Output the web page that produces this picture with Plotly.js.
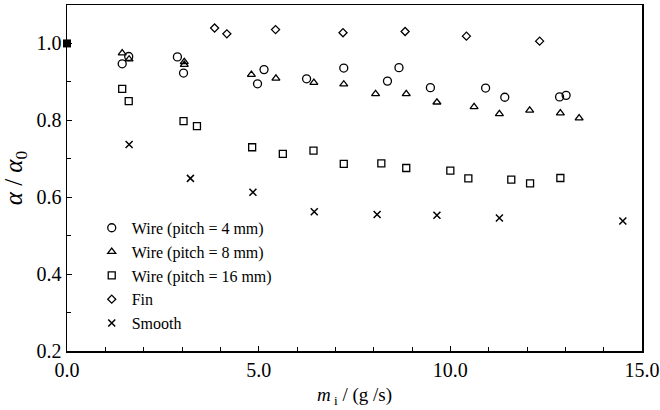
<!DOCTYPE html>
<html>
<head>
<meta charset="utf-8">
<script src="https://cdn.plot.ly/plotly-3.0.1.min.js"></script>
<style>html,body{margin:0;padding:0;background:#fff;}#chart{width:660px;height:410px;}</style>
</head>
<body>
<div id="chart"></div>
<script>
// Wire (pitch = 4 mm)
const wire4X = [1.44, 1.61, 2.88, 3.04, 4.97, 5.14, 6.25, 7.22, 8.36, 8.66, 9.48, 10.92, 11.42, 12.85, 13.02];
const wire4Y = [0.947, 0.966, 0.965, 0.923, 0.895, 0.932, 0.908, 0.936, 0.902, 0.937, 0.885, 0.884, 0.860, 0.861, 0.865];
// Wire (pitch = 8 mm)
const wire8X = [1.44, 1.62, 3.06, 3.06, 4.81, 5.45, 6.44, 7.22, 8.05, 8.85, 9.65, 10.62, 11.28, 12.07, 12.87, 13.36];
const wire8Y = [0.975, 0.959, 0.952, 0.945, 0.919, 0.909, 0.898, 0.894, 0.869, 0.869, 0.847, 0.835, 0.817, 0.826, 0.819, 0.806];
// Wire (pitch = 16 mm)
const wire16X = [1.44, 1.61, 3.04, 3.39, 4.83, 5.63, 6.43, 7.22, 8.20, 8.85, 10.0, 10.47, 11.59, 12.08, 12.87];
const wire16Y = [0.882, 0.850, 0.798, 0.785, 0.730, 0.713, 0.721, 0.687, 0.688, 0.676, 0.669, 0.649, 0.646, 0.636, 0.650];
// Fin
const finX = [3.85, 4.17, 5.44, 7.20, 8.82, 10.42, 12.33];
const finY = [1.040, 1.025, 1.036, 1.028, 1.031, 1.019, 1.006];
// Smooth
const smoothX = [1.62, 3.22, 4.85, 6.45, 8.09, 9.65, 11.28, 14.50];
const smoothY = [0.737, 0.649, 0.613, 0.562, 0.555, 0.553, 0.546, 0.538];
// Reference point
const refX = [0.0];
const refY = [1.0];

const names = ['Wire (pitch = 4 mm)', 'Wire (pitch = 8 mm)', 'Wire (pitch = 16 mm)', 'Fin', 'Smooth'];

const mk = (sym, size) => ({symbol: sym, size: size, color: '#000', line: {color: '#000', width: 1.3}});

const traces = [
  {x: wire4X, y: wire4Y, name: names[0], mode: 'markers', type: 'scatter', marker: mk('circle-open', 8), legendgroup: 'a'},
  {x: wire8X, y: wire8Y, name: names[1], mode: 'markers', type: 'scatter', marker: mk('triangle-up-open', 7), legendgroup: 'b'},
  {x: wire16X, y: wire16Y, name: names[2], mode: 'markers', type: 'scatter', marker: mk('square-open', 7), legendgroup: 'c'},
  {x: finX, y: finY, name: names[3], mode: 'markers', type: 'scatter', marker: mk('diamond-open', 6.2), legendgroup: 'd'},
  {x: smoothX, y: smoothY, name: names[4], mode: 'markers', type: 'scatter', marker: mk('x-thin-open', 7), legendgroup: 'e'},
  {x: refX, y: refY, name: 'ref', mode: 'markers', type: 'scatter', showlegend: false, cliponaxis: false,
   marker: {symbol: 'square', size: 8, color: '#000'}}
];
traces[4].marker.line.width = 1.5;

const ff = '"Liberation Serif", "Times New Roman", serif';

const layout = {
  width: 660, height: 410,
  margin: {l: 67, r: 17.5, t: 5, b: 59},
  paper_bgcolor: '#fff', plot_bgcolor: '#fff',
  font: {family: ff, color: '#000', size: 16},
  showlegend: true,
  legend: {x: 0.043, y: 0.405, xanchor: 'left', yanchor: 'top', bgcolor: 'rgba(0,0,0,0)',
           font: {family: ff, size: 16, color: '#000'}, tracegroupgap: 0, itemwidth: 30},
  xaxis: {
    range: [0, 15], dtick: 5, tick0: 0, tickformat: '.1f',
    ticks: 'inside', ticklen: 5, tickwidth: 1.2, tickcolor: '#000',
    minor: {dtick: 1, ticks: 'inside', ticklen: 4, tickwidth: 1, tickcolor: '#000'},
    showline: true, linecolor: '#000', linewidth: 1.5, mirror: true,
    showgrid: false, zeroline: false,
    tickfont: {family: ff, size: 20, color: '#000'},
    title: {text: '<i>m</i><sub> i</sub> / (g /s)', font: {family: ff, size: 19, color: '#000'}, standoff: 8}
  },
  yaxis: {
    range: [0.2, 1.1], dtick: 0.2, tick0: 0.2, tickformat: '.1f',
    ticks: 'inside', ticklen: 5, tickwidth: 1.2, tickcolor: '#000',
    minor: {dtick: 0.1, ticks: 'inside', ticklen: 4, tickwidth: 1, tickcolor: '#000'},
    showline: true, linecolor: '#000', linewidth: 1.5, mirror: true,
    showgrid: false, zeroline: false,
    tickfont: {family: ff, size: 20, color: '#000'},
    title: {text: '<i>α</i> / <i>α</i><sub>0</sub>', font: {family: ff, size: 25, color: '#000'}, standoff: 8}
  }
};

Plotly.newPlot('chart', traces, layout, {displayModeBar: false, staticPlot: true});
</script>
</body>
</html>
